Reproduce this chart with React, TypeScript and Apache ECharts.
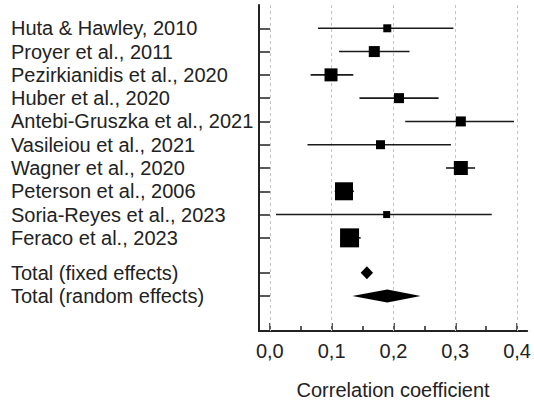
import React, { useEffect, useRef } from "react";
import * as echarts from "echarts";

const studies = [
  "Huta & Hawley, 2010",
  "Proyer et al., 2011",
  "Pezirkianidis et al., 2020",
  "Huber et al., 2020",
  "Antebi-Gruszka et al., 2021",
  "Vasileiou et al., 2021",
  "Wagner et al., 2020",
  "Peterson et al., 2006",
  "Soria-Reyes et al., 2023",
  "Feraco et al., 2023",
];
const estimates = [0.19, 0.169, 0.099, 0.209, 0.309, 0.179, 0.309, 0.12, 0.189, 0.129];
const ciLow = [0.078, 0.112, 0.066, 0.145, 0.219, 0.061, 0.285, 0.105, 0.01, 0.114];
const ciHigh = [0.297, 0.226, 0.135, 0.273, 0.395, 0.293, 0.332, 0.136, 0.359, 0.147];
const markerSizes = [8, 11, 13, 10, 10, 9, 14, 18, 7, 19];
const studyRows = [1, 2, 3, 4, 5, 6, 7, 8, 9, 10];

const totals = ["Total (fixed effects)", "Total (random effects)"];
const totalEst = [0.157, 0.19];
const totalLow = [0.147, 0.1335];
const totalHigh = [0.167, 0.244];
const totalRows = [11.5, 12.5];

const xTicks = [0, 0.1, 0.2, 0.3, 0.4];
const xMinorTicks = [0.05, 0.15, 0.25, 0.35];

const FONT = "'Liberation Sans', Arial, sans-serif";

export default function App() {
  const ref = useRef<HTMLDivElement>(null);
  useEffect(() => {
    if (!ref.current) return;
    const chart = echarts.init(ref.current, null, { renderer: "svg" });
    const allRows = [...studyRows, ...totalRows];
    const allNames = [...studies, ...totals];
    const nameFor = (v: number) => {
      const i = allRows.findIndex((r) => Math.abs(r - v) < 1e-6);
      return i >= 0 ? allNames[i] : "";
    };
    const option: any = {
      animation: false,
      grid: { left: 259, right: 1, top: 5, bottom: 68 },
      xAxis: [
        {
          type: "value",
          min: -0.0175,
          max: 0.4163,
          position: "bottom",
          axisLine: { show: true, onZero: false, lineStyle: { color: "#222", width: 2 } },
          axisTick: {
            show: true,
            inside: true,
            length: 8,
            customValues: xTicks,
            lineStyle: { color: "#222", width: 1.5 },
          },
          axisLabel: {
            customValues: xTicks,
            formatter: (v: number) => v.toFixed(1).replace(".", ","),
            fontSize: 20,
            color: "#222",
            fontFamily: FONT,
            margin: 10,
          },
          splitLine: { show: false },
          name: "Correlation coefficient",
          nameLocation: "middle",
          nameGap: 49,
          nameTextStyle: { fontSize: 20, color: "#222", fontFamily: FONT },
        },
        {
          type: "value",
          min: -0.0175,
          max: 0.4163,
          position: "bottom",
          axisLine: { show: false, onZero: false },
          axisTick: {
            show: true,
            inside: true,
            length: 5,
            customValues: xMinorTicks,
            lineStyle: { color: "#222", width: 1.5 },
          },
          axisLabel: { show: false },
          splitLine: { show: false },
        },
      ],
      yAxis: {
        type: "value",
        inverse: true,
        min: 0,
        max: 14,
        position: "left",
        axisLine: { show: true, onZero: false, lineStyle: { color: "#222", width: 2 } },
        axisTick: {
          show: true,
          inside: true,
          length: 11,
          customValues: allRows,
          lineStyle: { color: "#222", width: 1.5 },
        },
        axisLabel: {
          customValues: allRows,
          formatter: (v: number) => nameFor(v),
          align: "left",
          margin: 248,
          fontSize: 20,
          color: "#222",
          fontFamily: FONT,
        },
        splitLine: { show: false },
      },
      series: [
        {
          type: "custom",
          xAxisIndex: 0,
          renderItem: (params: any, api: any) => {
            const row = api.value(2);
            const p1 = api.coord([api.value(0), row]);
            const p2 = api.coord([api.value(1), row]);
            return {
              type: "line",
              shape: { x1: p1[0], y1: p1[1], x2: p2[0], y2: p2[1] },
              style: { stroke: "#1a1a1a", lineWidth: 1.6 },
            };
          },
          data: studyRows.map((r, i) => [ciLow[i], ciHigh[i], r]),
          z: 2,
          markLine: {
            silent: true,
            symbol: ["none", "none"],
            label: { show: false },
            lineStyle: { type: [3, 3], color: "#c4c4c4", width: 1 },
            data: xTicks.map((v) => ({ xAxis: v })),
            z: 1,
          },
        },
        {
          type: "scatter",
          xAxisIndex: 0,
          symbol: "rect",
          symbolSize: (v: number[]) => v[2],
          itemStyle: { color: "#000", opacity: 1 },
          data: studyRows.map((r, i) => [estimates[i], r, markerSizes[i]]),
          z: 3,
        },
        {
          type: "custom",
          xAxisIndex: 0,
          renderItem: (params: any, api: any) => {
            const row = api.value(3);
            const lo = api.coord([api.value(0), row]);
            const mid = api.coord([api.value(1), row]);
            const hi = api.coord([api.value(2), row]);
            const h = 6.5;
            return {
              type: "polygon",
              shape: {
                points: [
                  [lo[0], lo[1]],
                  [mid[0], mid[1] - h],
                  [hi[0], hi[1]],
                  [mid[0], mid[1] + h],
                ],
              },
              style: { fill: "#000" },
            };
          },
          data: totalRows.map((r, i) => [totalLow[i], totalEst[i], totalHigh[i], r]),
          z: 3,
        },
      ],
    };
    chart.setOption(option);
    return () => chart.dispose();
  }, []);
  return (
    <div
      ref={ref}
      style={{ position: "fixed", left: 0, top: 0, width: 534, height: 405, background: "#fff" }}
    />
  );
}
